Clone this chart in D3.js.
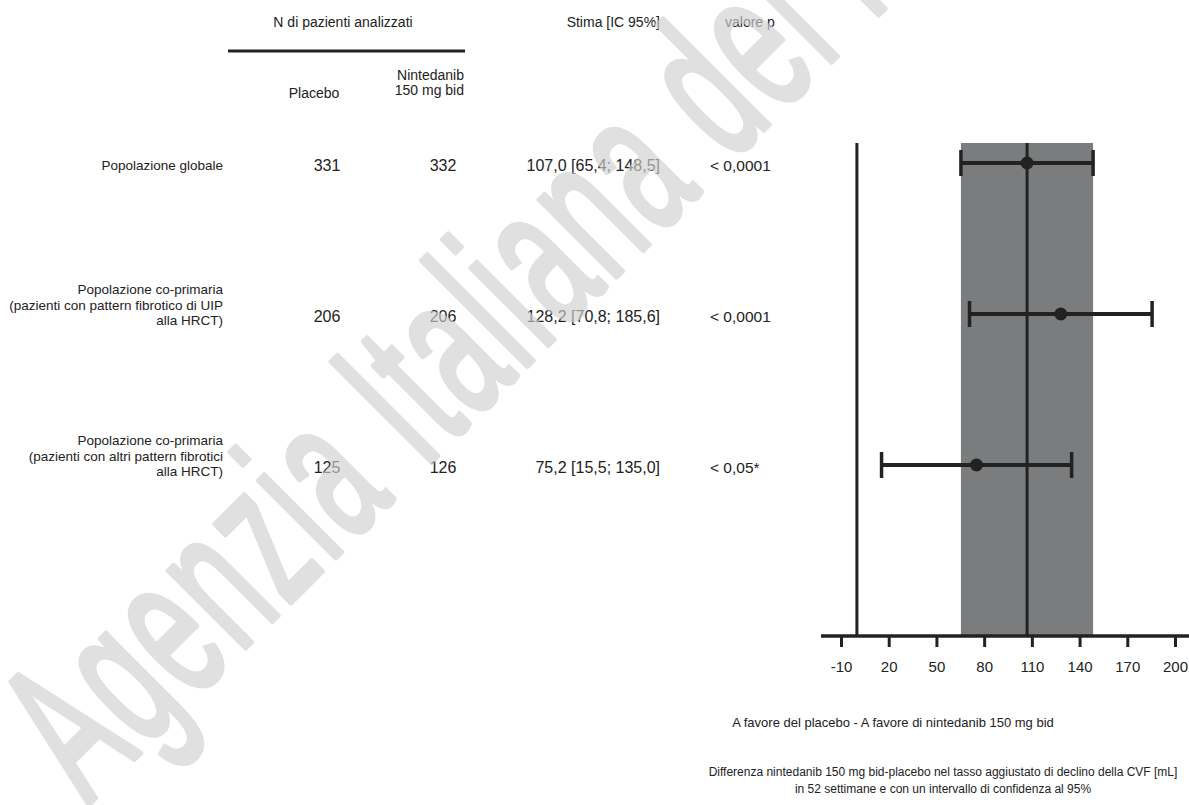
<!DOCTYPE html>
<html>
<head>
<meta charset="utf-8">
<script src="https://cdn.jsdelivr.net/npm/d3@7"></script>
<style>
  body { margin: 0; background: #fff; }
  svg { display: block; font-family: "Liberation Sans", Arial, sans-serif; }
</style>
</head>
<body>
<svg id="chart" width="1189" height="805"></svg>
<script>
// Data
var rowLabels = [
    ["Popolazione globale"],
    ["Popolazione co-primaria", "(pazienti con pattern fibrotico di UIP", "alla HRCT)"],
    ["Popolazione co-primaria", "(pazienti con altri pattern fibrotici", "alla HRCT)"]
];
var nPlacebo = [331, 206, 125];
var nNintedanib = [332, 206, 126];
var estimates = [107.0, 128.2, 75.2];
var ciLow = [65.4, 70.8, 15.5];
var ciHigh = [148.5, 185.6, 135.0];
var pValues = ["< 0,0001", "< 0,0001", "< 0,05*"];
var tickValues = [-10, 20, 50, 80, 110, 140, 170, 200];

var ink = "#222";
var svg = d3.select("#chart");

//Scales
var xScale = d3.scaleLinear().domain([-10, 200]).range([841, 1175]);
var yScale = d3.scalePoint().domain(d3.range(estimates.length)).range([163, 465]);

var plotTop = 143, axisY = 636;
var fmt = function(v) { return d3.format(".1f")(v).replace(".", ","); };

////////////////////// TABLE //////////////////////

var header = svg.append("g").attr("class", "header").style("fill", ink).style("font-size", "14px");

header.append("text").attr("x", 343).attr("y", 27).attr("text-anchor", "middle").text("N di pazienti analizzati");
header.append("text").attr("x", 660).attr("y", 27).attr("text-anchor", "end").text("Stima [IC 95%]");
header.append("text").attr("x", 725).attr("y", 27).text("valore p");

header.append("line")
    .attr("x1", 228).attr("x2", 465)
    .attr("y1", 51).attr("y2", 51)
    .attr("stroke", ink).attr("stroke-width", 3);

header.append("text").attr("x", 314).attr("y", 98).attr("text-anchor", "middle").text("Placebo");
header.append("text").attr("x", 464).attr("y", 80).attr("text-anchor", "end").text("Nintedanib");
header.append("text").attr("x", 464).attr("y", 95).attr("text-anchor", "end").text("150 mg bid");

//row labels
var labels = svg.append("g").attr("class", "rowLabels").style("fill", ink).style("font-size", "13.5px");

labels.selectAll("text")
    .data(rowLabels)
    .enter()
    .append("text")
        .attr("text-anchor", "end")
        .attr("y", (d, i) => d.length === 1 ? yScale(i) + 7 : yScale(i) + 11 - (d.length - 1) * 15.5)
        .each(function(d) {
            d3.select(this).selectAll("tspan")
                .data(d)
                .enter()
                .append("tspan")
                    .attr("x", 223)
                    .attr("dy", (t, j) => j === 0 ? 0 : 15.5)
                    .text(t => t);
        });

//numbers
var numbers = svg.append("g").attr("class", "numbers").style("fill", ink).style("font-size", "16px");

numbers.selectAll("text.placebo")
    .data(nPlacebo)
    .enter()
    .append("text")
        .attr("class", "placebo")
        .attr("x", 327)
        .attr("y", (d, i) => yScale(i) + 8)
        .attr("text-anchor", "middle")
        .text(d => d);

numbers.selectAll("text.ninte")
    .data(nNintedanib)
    .enter()
    .append("text")
        .attr("class", "ninte")
        .attr("x", 443)
        .attr("y", (d, i) => yScale(i) + 8)
        .attr("text-anchor", "middle")
        .text(d => d);

numbers.selectAll("text.est")
    .data(estimates)
    .enter()
    .append("text")
        .attr("class", "est")
        .attr("x", 660)
        .attr("y", (d, i) => yScale(i) + 8)
        .attr("text-anchor", "end")
        .text((d, i) => fmt(d) + " [" + fmt(ciLow[i]) + "; " + fmt(ciHigh[i]) + "]");

numbers.selectAll("text.pval")
    .data(pValues)
    .enter()
    .append("text")
        .attr("class", "pval")
        .attr("x", 710)
        .attr("y", (d, i) => yScale(i) + 8)
        .style("font-size", "15.5px")
        .text(d => d);

////////////////////// PLOT //////////////////////

var plot = svg.append("g").attr("class", "plot");

//grey band = CI of the overall population
plot.append("rect")
    .attr("x", xScale(ciLow[0]))
    .attr("y", plotTop)
    .attr("width", xScale(ciHigh[0]) - xScale(ciLow[0]))
    .attr("height", axisY - plotTop)
    .attr("fill", "#7b7c7e");

//zero line and overall estimate line
plot.selectAll("line.ref")
    .data([0, estimates[0]])
    .enter()
    .append("line")
        .attr("class", "ref")
        .attr("x1", d => xScale(d)).attr("x2", d => xScale(d))
        .attr("y1", plotTop).attr("y2", axisY)
        .attr("stroke", ink).attr("stroke-width", 3);

//axis
var axis = plot.append("g")
    .attr("transform", "translate(0," + axisY + ")")
    .call(d3.axisBottom(xScale).tickValues(tickValues).tickSize(11).tickPadding(14).tickFormat(d => String(d)));

axis.select(".domain").remove();
axis.selectAll(".tick line").attr("stroke", ink).attr("stroke-width", 3);
axis.selectAll(".tick text")
    .attr("fill", ink)
    .style("font-size", "15px")
    .style("font-family", "\"Liberation Sans\", Arial, sans-serif");

plot.append("line")
    .attr("x1", 821).attr("x2", 1189)
    .attr("y1", axisY).attr("y2", axisY)
    .attr("stroke", ink).attr("stroke-width", 3.5);

//whiskers
var ci = plot.append("g").attr("class", "ci");

ci.selectAll("line.whisker")
    .data(estimates)
    .enter()
    .append("line")
        .attr("class", "whisker")
        .attr("x1", (d, i) => xScale(ciLow[i]))
        .attr("x2", (d, i) => xScale(ciHigh[i]))
        .attr("y1", (d, i) => yScale(i))
        .attr("y2", (d, i) => yScale(i))
        .attr("stroke", ink).attr("stroke-width", 4);

ci.selectAll("line.capLow")
    .data(ciLow)
    .enter()
    .append("line")
        .attr("class", "capLow")
        .attr("x1", d => xScale(d)).attr("x2", d => xScale(d))
        .attr("y1", (d, i) => yScale(i) - 13)
        .attr("y2", (d, i) => yScale(i) + 13)
        .attr("stroke", ink).attr("stroke-width", 3.5);

ci.selectAll("line.capHigh")
    .data(ciHigh)
    .enter()
    .append("line")
        .attr("class", "capHigh")
        .attr("x1", d => xScale(d)).attr("x2", d => xScale(d))
        .attr("y1", (d, i) => yScale(i) - 13)
        .attr("y2", (d, i) => yScale(i) + 13)
        .attr("stroke", ink).attr("stroke-width", 3.5);

ci.selectAll("circle")
    .data(estimates)
    .enter()
    .append("circle")
        .attr("cx", d => xScale(d))
        .attr("cy", (d, i) => yScale(i))
        .attr("r", 6.5)
        .attr("fill", ink);

//captions
var captions = svg.append("g").attr("class", "captions").style("fill", ink).attr("text-anchor", "middle");

captions.append("text").attr("x", 893).attr("y", 727).style("font-size", "13px")
    .text("A favore del placebo - A favore di nintedanib 150 mg bid");
captions.append("text").attr("x", 943).attr("y", 776).style("font-size", "12px")
    .text("Differenza nintedanib 150 mg bid-placebo nel tasso aggiustato di declino della CVF [mL]");
captions.append("text").attr("x", 943).attr("y", 793).style("font-size", "12px")
    .text("in 52 settimane e con un intervallo di confidenza al 95%");

////////////////////// WATERMARK //////////////////////

svg.append("g")
    .attr("transform", "translate(88,805) rotate(-45) scale(0.55,1)")
    .append("text")
        .attr("x", 0).attr("y", 0)
        .style("font-size", "205px")
        .style("letter-spacing", "8px")
        .attr("fill", "#d0d0d0")
        .attr("stroke", "#d0d0d0")
        .attr("stroke-width", 6)
        .attr("stroke-linejoin", "round")
        .attr("opacity", 0.65)
        .text("Agenzia Italiana del Farmaco");
</script>
</body>
</html>
